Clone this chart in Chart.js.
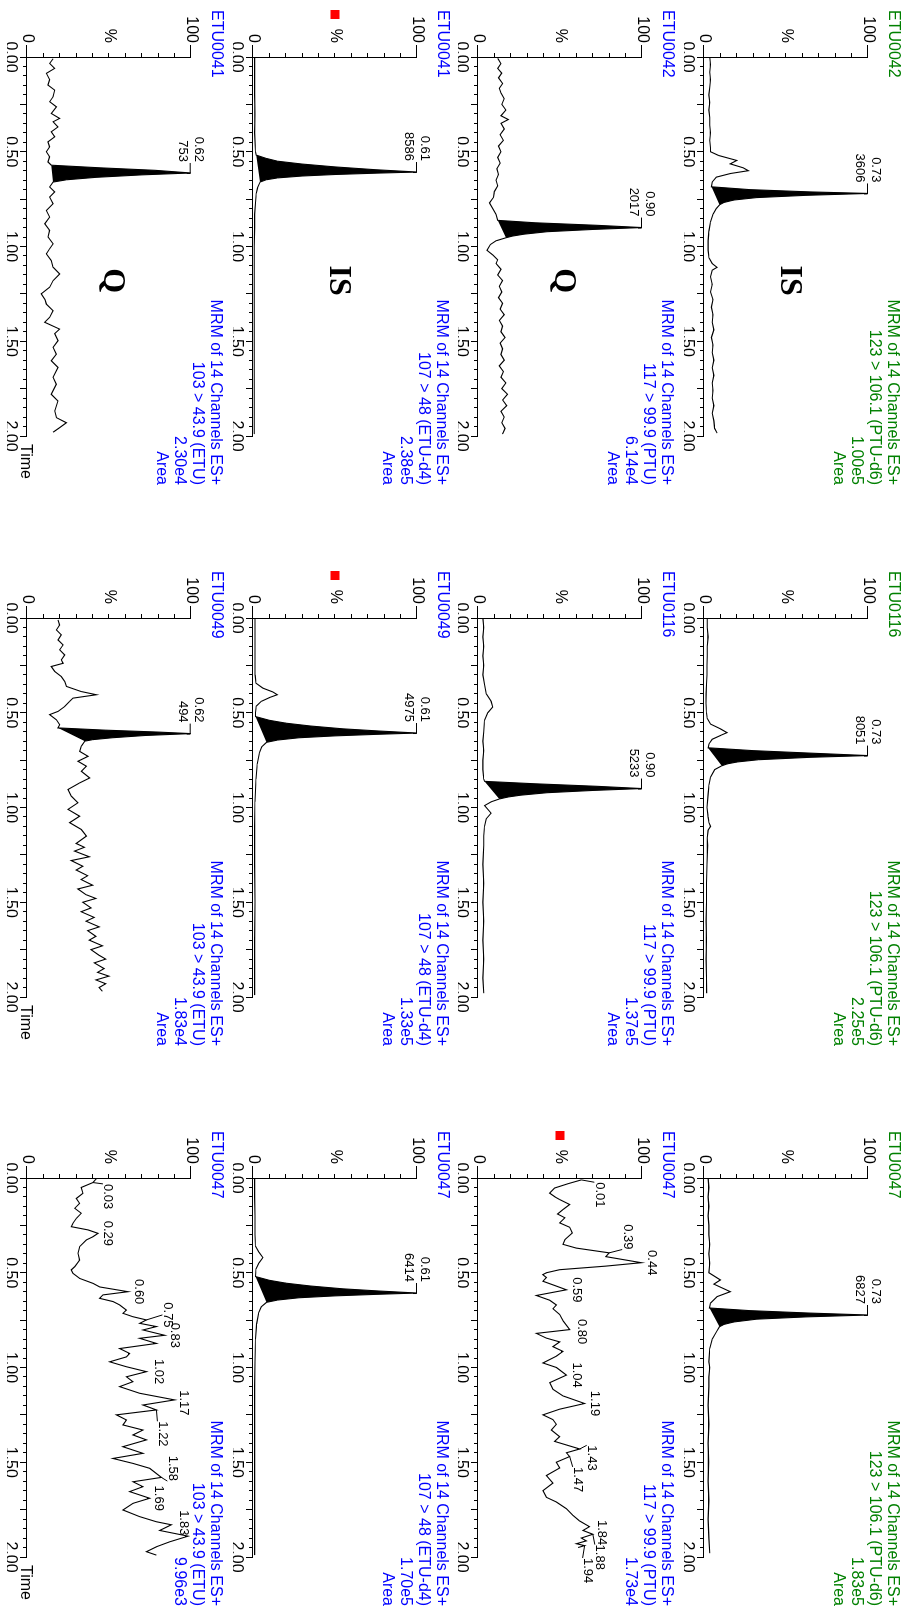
<!DOCTYPE html>
<html>
<head>
<meta charset="utf-8">
<title>MRM chromatograms</title>
<script src="https://cdn.jsdelivr.net/npm/chart.js@4.4.1/dist/chart.umd.min.js"></script>
<style>
  html, body { margin: 0; padding: 0; background: #fff; overflow: hidden; }
  #sheet { position: absolute; left: 0; top: 0; width: 1612px; height: 910px;
           transform-origin: 0 0; transform: translate(910px, 0) rotate(90deg); }
  #sheet canvas { position: absolute; }
</style>
</head>
<body>
<div id="sheet"></div>
<script>
// panel texts, row by row (rows = transitions, columns = samples)
const sampleNames = [
  ['ETU0042', 'ETU0116', 'ETU0047'],
  ['ETU0042', 'ETU0116', 'ETU0047'],
  ['ETU0041', 'ETU0049', 'ETU0047'],
  ['ETU0041', 'ETU0049', 'ETU0047']
];
const channelNames = ['123 > 106.1 (PTU-d6)', '117 > 99.9 (PTU)', '107 > 48 (ETU-d4)', '103 > 43.9 (ETU)'];
const intensities = [
  ['1.00e5', '2.25e5', '1.83e5'],
  ['6.14e4', '1.37e5', '1.73e4'],
  ['2.38e5', '1.33e5', '1.70e5'],
  ['2.30e4', '1.83e4', '9.96e3']
];
const peakRT = [
  ['0.73', '0.73', '0.73'],
  ['0.90', '0.90', null],
  ['0.61', '0.61', '0.61'],
  ['0.62', '0.62', null]
];
const peakCounts = [
  ['3606', '8051', '6827'],
  ['2017', '5233', null],
  ['8586', '4975', '6414'],
  ['753', '494', null]
];
const compoundTags = ['IS', 'Q', 'IS', 'Q'];
const flagged = [[false, false, false], [false, false, true], [true, true, false], [false, false, false]];
const percentTicks = ['0', '%', '100'];

// traces: [time (min), relative intensity (%)]
const trace_r0c0 = [[0,3.5],[0.04,4],[0.08,3.5],[0.12,4],[0.16,3.5],[0.2,3],[0.24,3.5],[0.28,3],[0.32,3.5],[0.36,3.5],[0.4,4],[0.44,3.5],[0.48,4],[0.5,4],[0.52,9],[0.546,20],[0.564,16],[0.585,24],[0.6,27],[0.615,16],[0.634,7.5],[0.66,5],[0.685,4.5],
  [0.7,28],[0.712,65],[0.72,100],[0.73,62],[0.742,32],[0.755,18],[0.768,12],[0.78,9.5],
  [0.8,7.5],[0.83,5.5],[0.87,4],[0.92,3],[0.97,2.5],[1.02,2.5],[1.06,3],[1.09,5],[1.11,8],[1.125,5],[1.16,4],[1.2,5],[1.24,4],[1.28,5.5],[1.32,4.5],[1.36,5.5],[1.4,5],[1.44,6],[1.48,4.5],[1.52,5.5],[1.56,5],[1.6,6],[1.64,5],[1.68,6],[1.72,5],[1.76,5.5],[1.8,5],[1.84,6],[1.88,5],[1.92,6],[1.96,6.5],[1.985,8]];
const trace_r0c1 = [[0,2],[0.05,2],[0.1,2.5],[0.15,2],[0.2,2],[0.25,1.8],[0.3,1.8],[0.35,1.5],[0.4,1.3],[0.45,1.2],[0.5,1.5],[0.53,2],[0.56,4],[0.585,10],[0.605,14],[0.62,10],[0.64,5],[0.665,3],[0.685,2.5],
  [0.7,30],[0.715,70],[0.726,100],[0.735,65],[0.748,33],[0.76,20],[0.77,14],[0.78,10.8],
  [0.8,6.5],[0.84,4],[0.88,3],[0.93,2.5],[1,1.8],[1.05,2.5],[1.08,3],[1.1,4],[1.12,2.5],[1.16,2],[1.2,2.2],[1.3,1.8],[1.4,1.5],[1.5,1.5],[1.6,1.3],[1.7,1.5],[1.8,1.3],[1.9,1.5],[1.98,1.6]];
const trace_r0c2 = [[0,2.5],[0.05,3],[0.1,2.5],[0.15,3],[0.2,2.5],[0.25,3],[0.3,3],[0.35,3.5],[0.4,3],[0.45,3.5],[0.5,3],[0.538,10],[0.56,6],[0.6,16],[0.626,8],[0.66,4],[0.686,3.3],
  [0.7,28],[0.713,65],[0.723,100],[0.733,62],[0.745,32],[0.76,18],[0.773,12],[0.785,9.4],
  [0.81,7.7],[0.85,5],[0.9,3.5],[0.97,3],[1,3.5],[1.05,3],[1.1,3],[1.2,2.5],[1.3,3],[1.4,2.5],[1.5,2.8],[1.6,2.5],[1.7,3],[1.8,2.5],[1.9,3],[1.98,3.5]];
const trace_r1c0 = [[0.007,12],[0.035,14],[0.06,12],[0.085,14.5],[0.11,12.5],[0.14,15],[0.165,13],[0.19,14],[0.22,16],[0.25,14.5],[0.28,17],[0.31,14],[0.33,18.5],[0.35,14],[0.38,16],[0.41,13.5],[0.44,15.5],[0.47,12.5],[0.5,14],[0.53,12],[0.56,13.5],[0.59,11.5],[0.62,12.5],[0.65,11],[0.68,12],[0.71,10],[0.74,9.5],[0.77,7],[0.8,9],[0.83,11],[0.862,12],
  [0.875,35],[0.888,72],[0.9,100],[0.91,70],[0.922,42],[0.935,28],[0.945,21],[0.954,17],
  [0.97,11],[0.99,7.5],[1.02,5.5],[1.045,9],[1.07,12],[1.09,11],[1.12,14],[1.15,12],[1.18,15],[1.21,13],[1.24,14.5],[1.27,12.5],[1.3,15],[1.33,13.5],[1.36,16],[1.39,13],[1.42,15],[1.45,14],[1.48,16.5],[1.51,13.5],[1.54,15],[1.57,14],[1.6,16],[1.63,13],[1.66,15.5],[1.69,14],[1.72,17],[1.75,14.5],[1.78,18],[1.81,15],[1.84,17.5],[1.87,14],[1.9,16],[1.93,14.5],[1.96,16.5],[1.99,15]];
const trace_r1c1 = [[0,3],[0.05,3.5],[0.1,3],[0.15,3.5],[0.2,3],[0.25,3.5],[0.3,3],[0.35,4],[0.4,5],[0.44,8],[0.47,9],[0.5,6],[0.54,4],[0.6,3.5],[0.65,3],[0.7,3.5],[0.75,3],[0.8,3],[0.85,3.5],[0.862,4],
  [0.875,35],[0.888,72],[0.9,100],[0.91,70],[0.922,42],[0.935,26],[0.945,18],[0.955,13],
  [0.97,8],[0.99,4],[1.01,6],[1.03,8],[1.06,5],[1.1,4],[1.15,3.5],[1.2,3.5],[1.3,3],[1.4,3.5],[1.5,3],[1.6,3.5],[1.7,3],[1.8,3.5],[1.9,3],[1.98,3.5]];
const trace_r1c2 = [[0.01,63],[0.03,55],[0.053,46.7],[0.08,43.7],[0.1,47],[0.114,49.8],[0.14,55.9],[0.167,51.8],[0.19,48.5],[0.21,53],[0.237,49.8],[0.26,55.9],[0.29,57.5],[0.325,53],[0.35,51.8],[0.37,60],[0.395,80],[0.415,78],[0.447,99.6],[0.465,78],[0.484,49.8],[0.5,41.7],[0.51,39.5],[0.525,41.7],[0.545,39.6],[0.565,46],[0.59,53.9],[0.62,35.6],[0.645,43.7],[0.67,47.8],[0.69,45.7],[0.72,49.8],[0.755,52],[0.8,55.9],[0.82,35.6],[0.845,41.7],[0.865,49.8],[0.89,45.7],[0.915,51.8],[0.94,47.8],[0.976,39.6],[1,47.8],[1.04,53.9],[1.08,43.7],[1.115,45.7],[1.15,51.8],[1.19,65],[1.22,49.8],[1.25,39.6],[1.275,45.7],[1.3,47.8],[1.33,44.7],[1.365,49.8],[1.39,46.7],[1.43,62],[1.45,53.9],[1.47,55.9],[1.5,47.8],[1.53,49.8],[1.57,41.7],[1.61,45.7],[1.65,39.6],[1.685,41.7],[1.71,47.8],[1.745,53.9],[1.78,57.9],[1.81,62],[1.84,68],[1.86,64],[1.88,70],[1.9,63],[1.915,66],[1.93,60],[1.94,65],[1.95,61]];
const trace_r2c0 = [[0,1],[0.1,1],[0.2,1],[0.3,1.2],[0.4,1],[0.5,1.5],[0.518,2],
  [0.535,8],[0.55,15],[0.565,30],[0.58,50],[0.595,75],[0.607,100],[0.613,75],[0.62,50],[0.628,30],[0.638,15],[0.648,8],[0.66,4.3],
  [0.69,2.8],[0.72,2],[0.77,1.5],[0.83,1],[0.9,1],[1,0.8],[1.2,0.8],[1.4,0.8],[1.6,0.8],[1.8,0.8],[1.99,0.8]];
const trace_r2c1 = [[0,1.2],[0.1,1.2],[0.2,1.2],[0.3,1.3],[0.344,1.8],[0.37,6],[0.39,12],[0.405,14.8],[0.42,10],[0.44,5],[0.465,2],[0.5,1.5],[0.52,1.5],
  [0.54,10],[0.555,20],[0.57,35],[0.585,55],[0.597,78],[0.607,100],[0.614,75],[0.622,50],[0.632,28],[0.644,15],[0.656,8.3],
  [0.68,5.3],[0.71,4],[0.77,2.6],[0.85,1.8],[0.97,1.2],[1.1,1],[1.3,1],[1.5,1.2],[1.7,1],[1.9,1],[1.99,1]];
const trace_r2c2 = [[0,1],[0.1,1],[0.2,1.2],[0.3,1.2],[0.36,1.5],[0.39,3.5],[0.42,6],[0.45,3.5],[0.48,1.8],[0.52,1.5],
  [0.54,10],[0.555,20],[0.57,35],[0.585,55],[0.597,78],[0.607,100],[0.614,75],[0.622,50],[0.632,28],[0.644,15],[0.656,8.3],
  [0.68,5],[0.71,3.5],[0.77,2.2],[0.85,1.5],[0.97,1.2],[1.1,1],[1.3,1],[1.5,1],[1.7,1],[1.9,1],[1.99,1]];
const trace_r3c0 = [[0.009,15.9],[0.034,13.8],[0.06,16.9],[0.086,11.8],[0.12,13.8],[0.148,12.8],[0.175,16.9],[0.21,15.9],[0.236,13.8],[0.263,17.9],[0.298,14.8],[0.324,19.9],[0.342,15.9],[0.369,18.9],[0.395,14.8],[0.421,16.9],[0.448,12.8],[0.474,13.8],[0.5,11.8],[0.527,13.8],[0.554,12.8],[0.571,14.8],
  [0.585,45],[0.598,78],[0.612,99.8],[0.622,70],[0.635,42],[0.648,24],[0.66,15.9],
  [0.686,13.8],[0.712,16.9],[0.739,13.8],[0.774,15.9],[0.81,11.8],[0.845,13.8],[0.88,10.8],[0.915,13.8],[0.95,12.8],[0.986,15.9],[1.012,13.8],[1.039,11.8],[1.074,14.8],[1.109,15.9],[1.145,19.9],[1.18,15.9],[1.215,13.8],[1.25,8.7],[1.28,11],[1.304,11.8],[1.339,15.9],[1.374,13.8],[1.4,10.8],[1.436,19.9],[1.46,16.9],[1.497,18.9],[1.532,15.9],[1.568,17.9],[1.603,14.8],[1.638,18.9],[1.69,15.9],[1.727,17.9],[1.78,14.8],[1.815,18.9],[1.868,16.9],[1.903,17.9],[1.93,24],[1.956,19.9],[1.98,15.9]];
const trace_r3c1 = [[0.01,18.9],[0.037,19.9],[0.063,17.9],[0.089,20.9],[0.116,18.9],[0.142,22],[0.168,19.9],[0.195,23],[0.221,20.9],[0.239,22],[0.256,14.8],[0.282,16.9],[0.309,20.9],[0.335,23],[0.361,24],[0.388,33],[0.405,42.3],[0.423,28],[0.44,26],[0.467,23],[0.493,18.9],[0.51,13.8],[0.537,17.9],[0.563,19.9],[0.58,18.9],
  [0.592,48],[0.602,80],[0.61,99.8],[0.62,72],[0.632,52],[0.642,40],[0.65,35.2],
  [0.677,33.1],[0.704,32.1],[0.73,37.2],[0.756,31.1],[0.782,36.2],[0.809,33.1],[0.844,38.2],[0.87,32.1],[0.905,25],[0.94,27],[0.975,31.1],[1.01,25],[1.046,32.1],[1.08,26],[1.116,33.1],[1.151,36.2],[1.19,30],[1.21,35],[1.23,29],[1.26,38],[1.28,27],[1.31,34],[1.33,30],[1.36,37],[1.38,33],[1.41,40],[1.43,31],[1.46,36],[1.48,42],[1.5,34],[1.53,39],[1.55,33],[1.58,41],[1.6,36],[1.63,44],[1.65,37],[1.68,42],[1.7,38],[1.73,46],[1.75,39],[1.78,44],[1.8,48],[1.82,41],[1.85,47],[1.87,43],[1.89,50],[1.91,42],[1.93,48],[1.95,44],[1.97,46]];
const trace_r3c2 = [[0.0035,42.3],[0.024,40.2],[0.05,33.1],[0.081,34.1],[0.108,30.1],[0.134,32.1],[0.16,29.1],[0.186,33.1],[0.213,30.1],[0.239,28],[0.257,27],[0.274,37.2],[0.292,43.3],[0.31,40.2],[0.327,36.2],[0.362,32.1],[0.397,31.1],[0.433,32.1],[0.468,29.1],[0.485,27],[0.503,28],[0.53,32.1],[0.556,40.2],[0.575,44.3],[0.6,61.6],[0.617,46.3],[0.635,44.3],[0.652,52.4],[0.67,56.5],[0.697,60.6],[0.714,58.5],[0.732,64.6],[0.749,72.8],[0.767,68.7],[0.784,78.9],[0.802,70.7],[0.83,83.9],[0.846,68.7],[0.873,78.9],[0.9,56.5],[0.926,62.6],[0.944,60.6],[0.97,50.4],[0.996,60.6],[1.022,72.8],[1.049,60.6],[1.075,64.6],[1.101,56.5],[1.136,68.7],[1.171,90],[1.198,70.7],[1.224,78.9],[1.25,54.5],[1.277,60.6],[1.303,58.5],[1.33,70.7],[1.356,64.6],[1.382,72.8],[1.418,58.5],[1.453,70.7],[1.48,52.4],[1.506,64.6],[1.532,74.8],[1.58,81.9],[1.603,64.6],[1.629,70.7],[1.655,62.6],[1.69,74.8],[1.717,64.6],[1.752,58.5],[1.787,68.7],[1.814,78.9],[1.83,88],[1.86,80.9],[1.89,98.2],[1.92,87],[1.946,78.9],[1.972,72.8],[1.99,78.9]];

const traces = [
  [trace_r0c0, trace_r0c1, trace_r0c2],
  [trace_r1c0, trace_r1c1, trace_r1c2],
  [trace_r2c0, trace_r2c1, trace_r2c2],
  [trace_r3c0, trace_r3c1, trace_r3c2]
];
// integrated peak windows (start, end time)
const peakWindows = [
  [[0.685, 0.78], [0.685, 0.78], [0.686, 0.785]],
  [[0.862, 0.954], [0.862, 0.955], null],
  [[0.518, 0.66], [0.52, 0.656], [0.52, 0.656]],
  [[0.571, 0.66], [0.58, 0.65], null]
];
// retention times printed on the noisy traces
const noiseRT_r1c2 = ['0.01', '0.39', '0.44', '0.59', '0.80', '1.04', '1.19', '1.43', '1.47', '1.84', '1.88', '1.94'];
const noiseRT_r3c2 = ['0.03', '0.29', '0.60', '0.75', '0.83', '1.02', '1.17', '1.22', '1.58', '1.69', '1.83'];
const noiseLabels = { '1,2': noiseRT_r1c2, '3,2': noiseRT_r3c2 };

// label offsets in px (layout only)
const labelNudge = {
  '1,2': [[15,-18],[-16,-18],[0,-10],[0,-10],[2,-12],[0,-10],[0,-10],[9,-12],[23,-8],[6,-12],[23,-7],[25,-3]],
  '3,2': [[14,-15],[0,-10],[0,-11],[-5,-21],[0,-10],[0,-12],[3,-9],[24,-6],[-9,-11],[0,-9],[-2,-12]]
};

const GREEN = '#008000';
const BLUE = '#0000ff';
const FONT = '"Liberation Sans", Arial, sans-serif';
const colLeft = [0, 561, 1121];
const rowTop = [0, 226, 451, 677];
const sheet = document.getElementById('sheet');

Chart.defaults.font.family = FONT;

function onStep(v, step) {
  const r = v / step;
  return Math.abs(r - Math.round(r)) < 1e-6;
}

function nearestIndex(pts, t) {
  let best = 0;
  pts.forEach((p, i) => { if (Math.abs(p.x - t) < Math.abs(pts[best].x - t)) best = i; });
  return best;
}

function drawPanel(row, col) {
  const canvas = document.createElement('canvas');
  canvas.width = 491;
  canvas.height = 242;
  canvas.style.left = colLeft[col] + 'px';
  canvas.style.top = rowTop[row] + 'px';
  sheet.appendChild(canvas);

  const key = row + ',' + col;
  const pts = traces[row][col].map(p => ({ x: p[0], y: p[1] }));
  const win = peakWindows[row][col];
  const datasets = [{ data: pts, borderColor: '#000', borderWidth: 1.1, pointRadius: 0, tension: 0, fill: false, clip: false, order: 0 }];
  if (win) {
    const seg = pts.filter(p => p.x >= win[0] && p.x <= win[1]).map(p => ({ x: p.x, y: p.y }));
    datasets.push({ data: seg, borderWidth: 0, pointRadius: 0, backgroundColor: '#000', fill: '+1', order: 1 });
    datasets.push({ data: [seg[0], seg[seg.length - 1]], borderWidth: 0, pointRadius: 0, fill: false, order: 2 });
  }
  const header = ['MRM of 14 Channels ES+', channelNames[row], intensities[row][col]];
  if (win) header.push('Area');

  const decor = {
    id: 'panelDecor',
    afterDraw(chart) {
      const { ctx, chartArea: a, scales } = chart;
      const meta = chart.getDatasetMeta(0);
      ctx.save();
      ctx.textBaseline = 'middle';
      ctx.font = '16px ' + FONT;
      ctx.fillStyle = row === 0 ? GREEN : BLUE;
      ctx.textAlign = 'left';
      ctx.fillText(sampleNames[row][col], 10, 17);
      ctx.textAlign = 'right';
      header.forEach((line, i) => ctx.fillText(line, a.right + 49, 18 + 18 * i));

      ctx.fillStyle = '#000';
      ctx.strokeStyle = '#000';
      ctx.lineWidth = 1;
      if (row === 3) {
        ctx.textAlign = 'left';
        ctx.fillText('Time', a.right + 8, a.bottom + 2);
      }
      if (flagged[row][col]) {
        ctx.fillStyle = '#ff0000';
        ctx.fillRect(10, scales.y.getPixelForValue(50) - 4.5, 9, 9);
        ctx.fillStyle = '#000';
      }
      if (col === 0) {
        ctx.font = 'bold 32px "Liberation Serif", "Times New Roman", serif';
        ctx.textAlign = 'center';
        ctx.fillText(compoundTags[row], scales.x.getPixelForValue(1.18), scales.y.getPixelForValue(52));
      }
      ctx.font = '13px ' + FONT;
      if (peakRT[row][col]) {
        const ai = pts.reduce((b, p, i) => (p.y > pts[b].y ? i : b), 0);
        const el = meta.data[ai];
        ctx.textAlign = 'right';
        ctx.fillText(peakRT[row][col], el.x - 11, el.y - 8);
        ctx.fillText(peakCounts[row][col], el.x - 11, el.y + 8);
        ctx.beginPath();
        ctx.moveTo(el.x - 10, el.y + 0.5);
        ctx.lineTo(el.x + 0.5, el.y + 0.5);
        ctx.lineTo(el.x + 0.5, el.y + 4);
        ctx.stroke();
      }
      const rts = noiseLabels[key];
      if (rts) {
        ctx.textAlign = 'center';
        rts.forEach((rt, i) => {
          const el = meta.data[nearestIndex(pts, parseFloat(rt))];
          const [dx, dy] = labelNudge[key][i] || [0, -10];
          const cx = el.x + dx, cy = el.y + dy;
          ctx.fillText(rt, cx, cy);
          if (Math.abs(dx) > 8 || dy < -16) {
            const w = ctx.measureText(rt).width;
            const ex = dx > 8 ? cx - w / 2 : dx < -8 ? cx + w / 2 : cx;
            ctx.beginPath();
            ctx.moveTo(el.x, el.y);
            ctx.lineTo(ex, cy + 5);
            ctx.stroke();
          }
        });
      }
      ctx.restore();
    }
  };

  const tickFont = { family: FONT, size: 16 };
  new Chart(canvas.getContext('2d'), {
    type: 'line',
    data: { datasets },
    options: {
      responsive: false,
      animation: false,
      events: [],
      layout: { padding: { left: 0, right: 55, top: 42, bottom: 16 } },
      plugins: { legend: { display: false }, tooltip: { enabled: false } },
      scales: {
        x: {
          type: 'linear', position: 'bottom', min: 0, max: 2, weight: 0,
          border: { color: '#000', width: 1 },
          grid: { drawOnChartArea: false, tickLength: 4, tickColor: '#000' },
          ticks: { stepSize: 0.05, autoSkip: false, callback: () => '' },
          afterFit: s => { s.height = 4; }
        },
        x2: {
          type: 'linear', position: 'bottom', min: 0, max: 2, weight: 1,
          border: { display: false },
          grid: { drawOnChartArea: false, tickLength: 3, tickColor: '#000' },
          ticks: {
            stepSize: 0.25, autoSkip: false, maxRotation: 0, minRotation: 0, padding: 0,
            color: '#000', font: tickFont,
            callback: v => (onStep(v, 0.5) ? v.toFixed(2) : '')
          },
          afterFit: s => { s.height = 16; }
        },
        y: {
          type: 'linear', position: 'left', min: 0, max: 100, weight: 0,
          border: { color: '#000', width: 1 },
          grid: { drawOnChartArea: false, tickLength: 4, tickColor: '#000' },
          ticks: { stepSize: 10, autoSkip: false, callback: () => '' },
          afterFit: s => { s.width = 4; }
        },
        y2: {
          type: 'linear', position: 'left', min: 0, max: 100, weight: 1,
          border: { display: false },
          grid: {
            drawOnChartArea: false, tickLength: 8,
            tickColor: c => (c.tick && c.tick.value === 50 ? 'rgba(0,0,0,0)' : '#000')
          },
          ticks: {
            stepSize: 50, autoSkip: false, padding: 2, color: '#000', font: tickFont,
            callback: v => percentTicks[Math.round(v / 50)]
          },
          afterFit: s => { s.width = 53; }
        }
      }
    },
    plugins: [decor]
  });
}

for (let r = 0; r < 4; r++) {
  for (let c = 0; c < 3; c++) drawPanel(r, c);
}
</script>
</body>
</html>
